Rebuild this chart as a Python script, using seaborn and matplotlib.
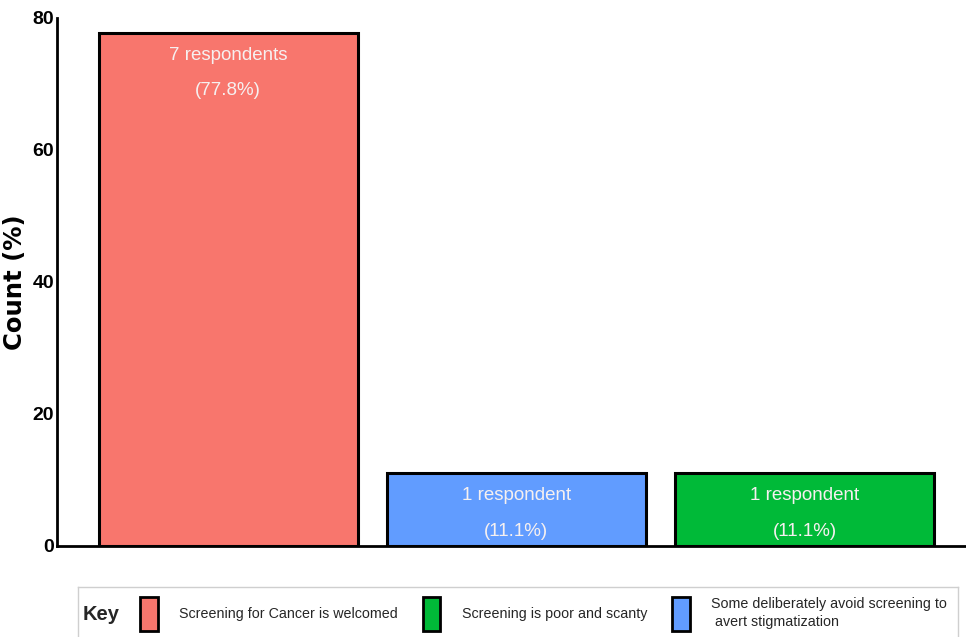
import matplotlib
matplotlib.use("Agg")
import matplotlib.pyplot as plt
import matplotlib.patches as mpatches
import seaborn as sns
import pandas as pd

# Survey responses on cancer screening
categories = [
    "Screening for Cancer is welcomed",
    "Some deliberately avoid screening to\n avert stigmatization",
    "Screening is poor and scanty",
]
percent = [77.8, 11.1, 11.1]
counts = [7, 1, 1]
colors = ["#F8766D", "#619CFF", "#00BA38"]
legend_order = [0, 2, 1]
y_ticks = [0, 20, 40, 60, 80]

SANS = ["Liberation Sans", "DejaVu Sans"]

sns.set_theme(style="white")
plt.rcParams["font.family"] = SANS

df = pd.DataFrame({"category": categories, "percent": percent, "count": counts})

fig = plt.figure(figsize=(9.66, 6.37), dpi=100)
ax = fig.add_axes([57 / 966, 91 / 637, 909 / 966, 528 / 637])

sns.barplot(
    data=df, x="category", y="percent", hue="category",
    palette=colors, order=categories, hue_order=categories,
    width=0.9, edgecolor="black", linewidth=2.2, saturation=1,
    legend=False, ax=ax,
)

ax.set_ylim(0, 80)
ax.set_xlim(-0.594, 2.56)
ax.set_yticks(y_ticks)
ax.set_yticklabels([str(t) for t in y_ticks], fontweight="bold", fontsize=14)
ax.tick_params(axis="y", length=0, pad=2, colors="black")
ax.set_xticks([])
ax.set_xlabel("")
ax.set_ylabel("Count (%)", family="DejaVu Sans", fontweight="bold",
              fontsize=17.5, labelpad=4, color="black")

for side in ("top", "right"):
    ax.spines[side].set_visible(False)
for side in ("left", "bottom"):
    ax.spines[side].set_color("black")
    ax.spines[side].set_linewidth(2)

# In-bar labels: respondent count and share
for i, (p, n) in enumerate(zip(percent, counts)):
    word = "respondent" if n == 1 else "respondents"
    ax.annotate(f"{n} {word}", xy=(i, p), xytext=(0, -16.5),
                textcoords="offset points", ha="center", va="center",
                color="#f6f0f0", fontsize=13.5)
    ax.annotate(f"({p}%)", xy=(i, p), xytext=(0, -42),
                textcoords="offset points", ha="center", va="center",
                color="#f6f0f0", fontsize=13.5)

# Key panel beneath the chart
kax = fig.add_axes([78 / 966, 0, 880 / 966, 50 / 637])
kax.set_xticks([])
kax.set_yticks([])
kax.set_facecolor("white")
for side, sp in kax.spines.items():
    sp.set_color("#cfcfcf")
    sp.set_linewidth(1)
kax.spines["bottom"].set_visible(False)
kax.text(5 / 880, 0.46, "Key", transform=kax.transAxes, ha="left", va="center",
         fontsize=14.5, fontweight="bold")

handles = [mpatches.Patch(facecolor=colors[i], edgecolor="black", linewidth=2)
           for i in legend_order]
labels = [categories[i] for i in legend_order]
leg = kax.legend(handles, labels, ncol=3, frameon=False, loc="center left",
                 bbox_to_anchor=(62 / 880, 0.46), handlelength=1.23,
                 handleheight=3.3, handletextpad=1.5, columnspacing=1.75,
                 fontsize=10.3, borderaxespad=0, borderpad=0)
for t in leg.get_texts():
    t.set_linespacing(1.45)

fig.savefig("out.png", dpi=100)
